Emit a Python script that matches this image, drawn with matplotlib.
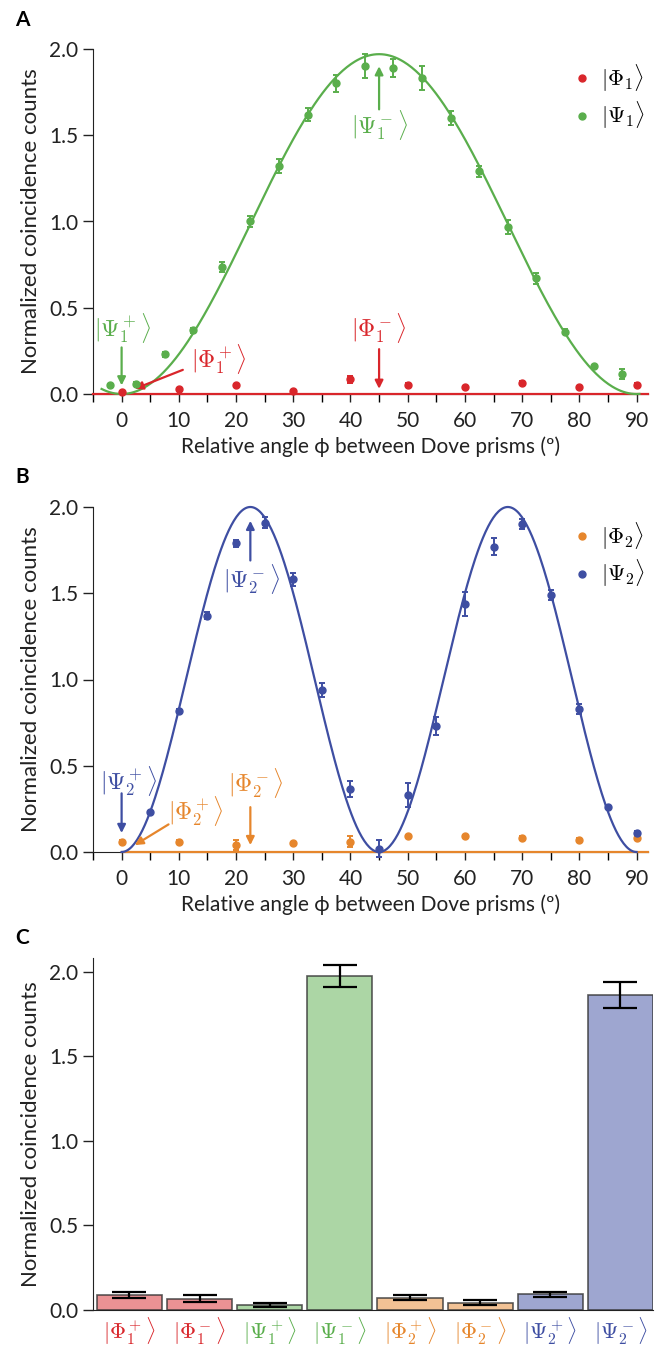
import numpy as np
import matplotlib
matplotlib.use('Agg')
import matplotlib.pyplot as plt
from matplotlib.colors import to_rgba
from matplotlib.lines import Line2D

plt.rcParams['font.family'] = ['Lato', 'DejaVu Sans']
plt.rcParams['mathtext.fontset'] = 'cm'

RED = '#d9262b'
GREEN = '#5aae4c'
ORANGE = '#e6862c'
BLUE = '#3e4ea2'

# panel A data
psi1_x = [-2, 2.5, 7.5, 12.5, 17.5, 22.5, 27.5, 32.5, 37.5, 42.5, 47.5, 52.5,
          57.5, 62.5, 67.5, 72.5, 77.5, 82.5, 87.5]
psi1_y = [0.05, 0.06, 0.23, 0.37, 0.735, 1.0, 1.32, 1.62, 1.80, 1.90, 1.89, 1.83,
          1.60, 1.29, 0.97, 0.67, 0.36, 0.16, 0.115]
psi1_err = [0.01, 0.01, 0.015, 0.015, 0.03, 0.03, 0.04, 0.04, 0.05, 0.07, 0.05, 0.07,
            0.04, 0.03, 0.04, 0.03, 0.015, 0.01, 0.03]
phi1_x = [0, 10, 20, 30, 40, 50, 60, 70, 80, 90]
phi1_y = [0.013, 0.03, 0.05, 0.02, 0.085, 0.055, 0.04, 0.065, 0.04, 0.055]
phi1_err = [0.005, 0.005, 0.01, 0.005, 0.02, 0.01, 0.005, 0.01, 0.005, 0.01]
fit_amp_psi1 = 1.97   # fit: A sin^2(2 phi)
fit_amp_phi1 = 0.0

# panel B data
psi2_x = [5, 10, 15, 20, 25, 30, 35, 40, 45, 50, 55, 60, 65, 70, 75, 80, 85, 90]
psi2_y = [0.23, 0.82, 1.37, 1.79, 1.91, 1.58, 0.94, 0.365, 0.02, 0.33, 0.73, 1.44,
          1.77, 1.90, 1.49, 0.83, 0.26, 0.11]
psi2_err = [0.01, 0.01, 0.02, 0.02, 0.03, 0.04, 0.04, 0.045, 0.05, 0.07, 0.05, 0.07,
            0.05, 0.03, 0.03, 0.03, 0.01, 0.01]
phi2_x = [0, 10, 20, 30, 40, 50, 60, 70, 80, 90]
phi2_y = [0.06, 0.06, 0.04, 0.05, 0.06, 0.09, 0.09, 0.08, 0.07, 0.08]
phi2_err = [0.01, 0.01, 0.03, 0.01, 0.03, 0.01, 0.01, 0.01, 0.01, 0.01]
fit_amp_psi2 = 2.0    # fit: A sin^2(4 phi)
fit_amp_phi2 = 0.0

# panel C data
bar_labels = [r'$|\Phi_1^+\rangle$', r'$|\Phi_1^-\rangle$', r'$|\Psi_1^+\rangle$', r'$|\Psi_1^-\rangle$',
              r'$|\Phi_2^+\rangle$', r'$|\Phi_2^-\rangle$', r'$|\Psi_2^+\rangle$', r'$|\Psi_2^-\rangle$']
bar_vals = [0.088, 0.067, 0.032, 1.972, 0.073, 0.044, 0.092, 1.862]
bar_err = [0.017, 0.02, 0.012, 0.064, 0.014, 0.015, 0.015, 0.078]
bar_colors = [RED, RED, GREEN, GREEN, ORANGE, ORANGE, BLUE, BLUE]

W, H = 662, 1351
fig = plt.figure(figsize=(W / 100, H / 100), dpi=100)


def ax_box(left, top, right, bottom):
    return fig.add_axes([left / W, 1 - bottom / H, (right - left) / W, (bottom - top) / H])


def style(ax):
    for s in ['top', 'right']:
        ax.spines[s].set_visible(False)
    ax.spines['left'].set_color('#222222')
    ax.spines['bottom'].set_color('#222222')
    ax.tick_params(labelsize=15, length=7, width=1, color='#222222', labelcolor='#222222')
    ax.set_ylabel('Normalized coincidence counts', fontsize=16, color='#222222', labelpad=6)
    ax.set_yticks([0, 0.5, 1.0, 1.5, 2.0])


def sweep_panel(ax, pts, fits):
    ax.set_xlim(-5, 92)
    ax.set_ylim(0, 2.0)
    style(ax)
    ax.set_xticks(range(0, 91, 10))
    ax.set_xticks(range(-5, 91, 10), minor=True)
    ax.tick_params(axis='x', which='both', length=6, width=1, pad=6)
    ax.set_xlabel('Relative angle ϕ between Dove prisms (º)', fontsize=15, color='#222222', labelpad=4)
    for (fx, fy, col) in fits:
        ax.plot(fx, fy, color=col, lw=1.6, zorder=3, clip_on=False)
    handles = []
    for (x, y, e, col, lab) in pts:
        ax.errorbar(x, y, yerr=e, fmt='o', color=col, ms=5, capsize=2.5, elinewidth=1.4,
                    capthick=1.4, zorder=4, clip_on=False)
        handles.append(Line2D([], [], marker='o', ls='none', color=col, ms=5, label=lab))
    ax.legend(handles=handles, loc='upper right', bbox_to_anchor=(1.03, 1.02), frameon=False,
              fontsize=16, handletextpad=0.1, labelspacing=0.25, handlelength=1.5)


def ket(ax, text, xy, xytext, col, tx=None):
    ax.annotate('', xy=xy, xytext=xytext,
                arrowprops=dict(arrowstyle='-|>', color=col, lw=1.6, mutation_scale=12,
                                shrinkA=0, shrinkB=0))
    ax.text(tx[0], tx[1], text, color=col, fontsize=17, ha='center', va='center')


# ---- A
axA = ax_box(93, 49, 648, 394)
phiA = np.linspace(-3.5, 90.5, 400)
phiR = np.linspace(-5, 92, 10)
sweep_panel(axA,
            [(phi1_x, phi1_y, phi1_err, RED, r'$|\Phi_1\rangle$'),
             (psi1_x, psi1_y, psi1_err, GREEN, r'$|\Psi_1\rangle$')],
            [(phiR, fit_amp_phi1 * np.sin(np.radians(2 * phiR)) ** 2, RED),
             (phiA, fit_amp_psi1 * np.sin(np.radians(2 * phiA)) ** 2, GREEN)])
ket(axA, r'$|\Psi_1^+\rangle$', (0, 0.05), (0, 0.27), GREEN, tx=(0.2, 0.38))
ket(axA, r'$|\Phi_1^+\rangle$', (2.3, 0.03), (10.7, 0.14), RED, tx=(17, 0.2))
ket(axA, r'$|\Psi_1^-\rangle$', (45, 1.9), (45, 1.65), GREEN, tx=(45, 1.56))
ket(axA, r'$|\Phi_1^-\rangle$', (45, 0.03), (45, 0.26), RED, tx=(45, 0.38))

# ---- B
axB = ax_box(93, 507, 648, 852)
phiB = np.linspace(0, 90, 400)
phiO = np.linspace(0, 92, 10)
sweep_panel(axB,
            [(phi2_x, phi2_y, phi2_err, ORANGE, r'$|\Phi_2\rangle$'),
             (psi2_x, psi2_y, psi2_err, BLUE, r'$|\Psi_2\rangle$')],
            [(phiO, fit_amp_phi2 * np.sin(np.radians(4 * phiO)) ** 2, ORANGE),
             (phiB, fit_amp_psi2 * np.sin(np.radians(4 * phiB)) ** 2, BLUE)])
ket(axB, r'$|\Psi_2^+\rangle$', (0, 0.11), (0, 0.34), BLUE, tx=(1.2, 0.41))
ket(axB, r'$|\Phi_2^+\rangle$', (2.3, 0.04), (8.2, 0.16), ORANGE, tx=(13, 0.24))
ket(axB, r'$|\Psi_2^-\rangle$', (22.5, 1.92), (22.5, 1.69), BLUE, tx=(22.7, 1.58))
ket(axB, r'$|\Phi_2^-\rangle$', (22.5, 0.04), (22.5, 0.26), ORANGE, tx=(23.5, 0.4))

# ---- C
axC = ax_box(93, 958, 653, 1310)
xpos = np.arange(len(bar_vals))
face = [to_rgba(c, 0.5) for c in bar_colors]
axC.bar(xpos, bar_vals, width=0.93, color=face, edgecolor=(0.2, 0.2, 0.2, 0.8), linewidth=1.2)
axC.errorbar(xpos, bar_vals, yerr=bar_err, fmt='none', ecolor='black', elinewidth=1.6,
             capsize=12, capthick=1.6)
axC.set_xlim(-0.52, 7.465)
axC.set_ylim(0, 2.08)
style(axC)
axC.set_xticks(xpos)
axC.set_xticklabels(bar_labels, fontsize=16)
axC.tick_params(axis='x', length=0, pad=4)
for t, c in zip(axC.get_xticklabels(), bar_colors):
    t.set_color(c)

for lab, y in [('A', 20), ('B', 477), ('C', 938)]:
    fig.text(15 / W, 1 - y / H, lab, fontsize=15, fontweight='bold', va='center', ha='left')

fig.savefig('out.png', dpi=100)
